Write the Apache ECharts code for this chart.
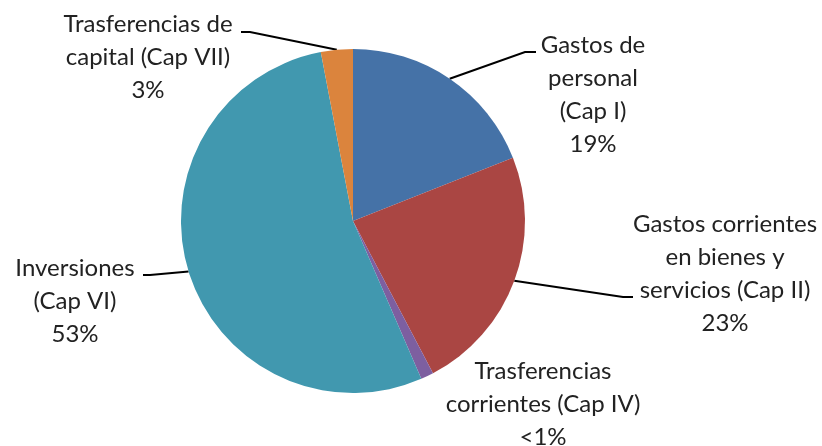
<!DOCTYPE html>
<html>
<head>
<meta charset="utf-8">
<script src="https://cdn.jsdelivr.net/npm/echarts@6/dist/echarts.min.js"></script>
<style>
 html, body { margin: 0; padding: 0; background: #fff; }
 #chart { width: 822px; height: 446px; }
</style>
</head>
<body>
<div id="chart"></div>
<script>
// chapters of the budget, clockwise from 12 o'clock
var categories = [
 'Gastos de\npersonal\n(Cap I)',
 'Gastos corrientes\nen bienes y\nservicios (Cap II)',
 'Trasferencias\ncorrientes (Cap IV)',
 'Inversiones\n(Cap VI)',
 'Trasferencias de\ncapital (Cap VII)'
];
var values = [19.0, 23.3, 1.2, 53.5, 3.0];
var pctLabels = ['19%', '23%', '<1%', '53%', '3%'];
var colors = ['#4572A7', '#AA4643', '#7D5FA0', '#4198AF', '#DB843D'];
var showLine = [true, true, false, true, true];

// where each label block sits (centre x, top y) and where its leader line bends
var labelPos = [[593, 29], [725, 208], [543, 355], [75, 252], [148, 8]];
var lineBend = [[[525, 52], [536, 52]], [[623, 297], [633, 297]], null, [[150, 275], [143, 275]], [[250, 32], [241, 32]]];

var myChart;
window.onload = function () {
 myChart = echarts.init(document.getElementById('chart'));

 var data = categories.map(function (c, i) {
  return {
   name: c,
   value: values[i],
   itemStyle: { color: colors[i] },
   labelLine: { show: showLine[i] }
  };
 });

 var option = {
  animation: false,
  series: [{
   type: 'pie',
   center: [353, 221],
   radius: 172,
   startAngle: 90,
   clockwise: true,
   avoidLabelOverlap: false,
   emphasis: { disabled: true },
   itemStyle: { borderWidth: 0 },
   label: {
    show: true,
    position: 'outside',
    fontFamily: 'Lato',
    fontSize: 24,
    lineHeight: 33,
    color: '#222',
    align: 'center',
    formatter: function (p) {
     return p.name + '\n' + pctLabels[p.dataIndex];
    }
   },
   labelLine: {
    show: true,
    length: 10,
    length2: 10,
    lineStyle: { color: '#000', width: 2 }
   },
   labelLayout: function (params) {
    var i = params.dataIndex;
    var res = {
     x: labelPos[i][0],
     y: labelPos[i][1],
     align: 'center',
     verticalAlign: 'top'
    };
    if (lineBend[i] && params.labelLinePoints) {
     res.labelLinePoints = [params.labelLinePoints[0], lineBend[i][0], lineBend[i][1]];
    }
    return res;
   },
   data: data
  }]
 };

 myChart.setOption(option);
};
</script>
</body>
</html>
